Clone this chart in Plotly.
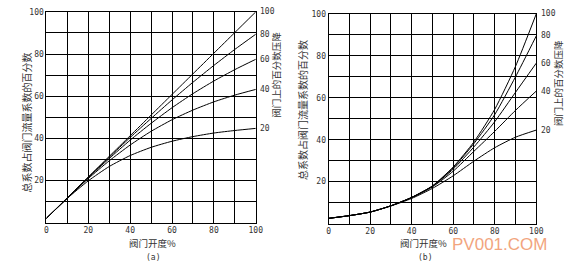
import plotly.graph_objects as go

# ---------------- data ----------------
opening = [0, 10, 20, 30, 40, 50, 60, 70, 80, 90, 100]
curve_labels = ["100", "80", "60", "40", "20"]

# (a) linear valve
a_100 = [2, 11.8, 21.6, 31.4, 41.2, 51.0, 60.8, 70.6, 80.4, 90.2, 100]
a_80 = [2, 11.7, 21.5, 31.0, 40.4, 49.4, 58.2, 66.6, 74.6, 82.2, 89.4]
a_60 = [2, 11.6, 21.3, 30.4, 39.1, 47.1, 54.5, 61.2, 67.2, 72.6, 77.5]
a_40 = [2, 11.6, 20.9, 29.3, 36.8, 43.3, 48.8, 53.4, 57.3, 60.5, 63.2]
a_20 = [2, 11.5, 19.8, 26.6, 31.8, 35.7, 38.6, 40.8, 42.5, 43.7, 44.7]

# (b) equal-percentage valve
b_100 = [2.5, 3.8, 5.5, 8.5, 12.5, 18.0, 27.0, 39.0, 54.5, 75.0, 100]
b_80 = [2.5, 3.8, 5.5, 8.5, 12.5, 17.9, 26.6, 38.2, 52.0, 70.0, 89.5]
b_60 = [2.5, 3.8, 5.5, 8.5, 12.4, 17.8, 26.0, 36.6, 48.6, 62.6, 76.5]
b_40 = [2.5, 3.8, 5.5, 8.5, 12.4, 17.5, 25.0, 34.5, 44.0, 54.0, 63.2]
b_20 = [2.5, 3.8, 5.5, 8.4, 12.0, 16.8, 22.8, 29.8, 36.2, 41.2, 44.6]

x_ticks = [0, 10, 20, 30, 40, 50, 60, 70, 80, 90, 100]
x_ticktext = ["0", "", "20", "", "40", "", "60", "", "80", "", "100"]
y_ticktext = ["", "", "20", "", "40", "", "60", "", "80", "", "100"]

left_title = "总系数占阀门流量系数的百分数"
right_title = "阀门上的百分数压降"
x_title = "阀门开度%"
panel_names = ["(a)", "(b)"]

# ---------------- figure ----------------
fig = go.Figure()
series_a = [a_100, a_80, a_60, a_40, a_20]
series_b = [b_100, b_80, b_60, b_40, b_20]

for s in series_a:
    fig.add_trace(go.Scatter(x=opening, y=s, mode="lines", xaxis="x", yaxis="y",
                             line=dict(color="black", width=1, shape="spline", smoothing=0.6),
                             showlegend=False, hoverinfo="skip"))
for s in series_b:
    fig.add_trace(go.Scatter(x=opening, y=s, mode="lines", xaxis="x2", yaxis="y2",
                             line=dict(color="black", width=1, shape="spline", smoothing=0.6),
                             showlegend=False, hoverinfo="skip"))

tickfont = dict(family="DejaVu Sans Mono", size=8, color="#333")
axis_common = dict(range=[0, 100], tickmode="array", tickvals=x_ticks, showgrid=True,
                   gridcolor="black", gridwidth=1, showline=True, linecolor="black",
                   linewidth=1, mirror=True, ticks="", zeroline=False, tickfont=tickfont,
                   fixedrange=True)

fig.update_layout(
    width=578, height=267, margin=dict(l=0, r=0, t=0, b=0),
    paper_bgcolor="white", plot_bgcolor="white",
    xaxis=dict(domain=[0.078, 0.446], anchor="y", ticktext=x_ticktext, **axis_common),
    yaxis=dict(domain=[0.169, 0.970], anchor="x", ticktext=y_ticktext, **axis_common),
    xaxis2=dict(domain=[0.574, 0.939], anchor="y2", ticktext=x_ticktext, **axis_common),
    yaxis2=dict(domain=[0.165, 0.9625], anchor="x2", ticktext=y_ticktext, **axis_common),
)

cjk = "Noto Sans CJK SC"
ann = []
# curve end labels
for lab, s in zip(curve_labels, series_a):
    ann.append(dict(x=100, y=s[-1], xref="x", yref="y", text=lab, showarrow=False,
                    xanchor="left", yanchor="middle", xshift=2, font=tickfont))
for lab, s in zip(curve_labels, series_b):
    ann.append(dict(x=100, y=s[-1], xref="x2", yref="y2", text=lab, showarrow=False,
                    xanchor="left", yanchor="middle", xshift=3, font=tickfont))

titlefont = dict(family=cjk, size=10, color="#333")
smallfont = dict(family=cjk, size=9.5, color="#333")


def pa(x, y, text, font, angle=0):
    return dict(x=x, y=y, xref="paper", yref="paper", text=text, textangle=angle,
                showarrow=False, xanchor="center", yanchor="middle", font=font)


ann += [
    pa(0.043, 0.551, left_title, titlefont, -90),
    pa(0.481, 0.730, right_title, smallfont, -90),
    pa(0.528, 0.599, left_title, titlefont, -90),
    pa(0.9775, 0.700, right_title, smallfont, -90),
    pa(0.265, 0.09, x_title, smallfont),
    pa(0.740, 0.09, x_title, smallfont),
    pa(0.265, 0.0375, panel_names[0], dict(family="DejaVu Sans Mono", size=8, color="#333")),
    pa(0.744, 0.0375, panel_names[1], dict(family="DejaVu Sans Mono", size=8, color="#333")),
    pa(0.874, 0.086, "PV001.COM", dict(family="Liberation Sans", size=17, color="#F2A57E")),
]
fig.update_layout(annotations=ann)

fig.write_html("out.html")
